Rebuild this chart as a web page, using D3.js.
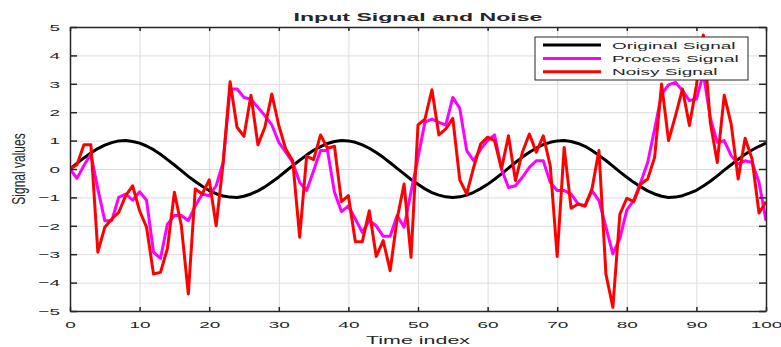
<!DOCTYPE html>
<html>
<head>
<meta charset="utf-8">
<script src="https://cdn.jsdelivr.net/npm/d3@7"></script>
<style>
  body { margin: 0; background: #fff; }
  text { font-family: "Liberation Sans", Arial, sans-serif; fill: #262626; }
</style>
</head>
<body>
<div id="chart"></div>
<script>
// values, index 0..100
const original = [0.00, 0.20, 0.39, 0.56, 0.72, 0.84, 0.93, 0.99, 1.00, 0.97,
  0.91, 0.81, 0.68, 0.52, 0.33, 0.14, -0.06, -0.26, -0.44, -0.61,
  -0.76, -0.87, -0.95, -0.99, -1.00, -0.96, -0.88, -0.77, -0.63, -0.46,
  -0.28, -0.08, 0.12, 0.31, 0.49, 0.66, 0.79, 0.90, 0.97, 1.00,
  0.99, 0.94, 0.85, 0.73, 0.58, 0.41, 0.22, 0.02, -0.17, -0.37,
  -0.54, -0.70, -0.83, -0.92, -0.98, -1.00, -0.98, -0.92, -0.82, -0.69,
  -0.54, -0.36, -0.17, 0.03, 0.23, 0.42, 0.59, 0.74, 0.86, 0.94,
  0.99, 1.00, 0.97, 0.90, 0.80, 0.65, 0.48, 0.30, 0.10, -0.10,
  -0.29, -0.47, -0.63, -0.77, -0.88, -0.96, -1.00, -0.99, -0.94, -0.85,
  -0.75, -0.60, -0.43, -0.24, -0.04, 0.15, 0.34, 0.52, 0.67, 0.80, 0.91];

const processSig = [0.00, -0.33, 0.12, 0.53, -0.70, -1.82, -1.82, -1.00, -0.88, -1.10,
  -0.80, -1.10, -2.93, -3.15, -1.94, -1.64, -1.64, -1.82, -1.30, -0.88,
  -0.94, -0.59, 0.23, 2.82, 2.82, 2.52, 2.46, 2.17, 1.88, 1.55,
  0.94, 0.59, 0.23, -0.47, -0.76, -0.06, 0.65, 0.65, -0.82, -1.50,
  -1.30, -1.76, -2.23, -1.82, -2.00, -2.37, -2.37, -1.64, -2.05, -0.80,
  0.40, 1.65, 1.76, 1.64, 1.55, 2.52, 2.14, 0.65, 0.29, 0.70,
  1.00, 1.20, 0.00, -0.65, -0.59, -0.29, 0.06, 0.29, 0.29, -0.47,
  -0.76, -0.76, -0.88, -1.23, -1.29, -0.76, -1.11, -2.05, -2.99, -2.45,
  -1.45, -1.10, -0.47, 0.23, 1.41, 2.64, 2.96, 3.05, 2.76, 2.41,
  2.46, 3.35, 1.80, 0.94, 1.00, 0.47, 0.18, 0.29, 0.23, -0.47, -1.82];

const noisy = [0.00, 0.15, 0.85, 0.85, -2.93, -2.05, -1.76, -1.53, -0.94, -0.59,
  -1.47, -2.05, -3.70, -3.64, -2.80, -0.82, -2.00, -4.40, -0.70, -0.88,
  -0.38, -2.00, 0.20, 3.07, 1.47, 1.15, 2.60, 0.85, 1.47, 2.64,
  1.53, 0.70, 0.29, -2.40, 0.45, 0.33, 1.20, 0.73, 0.80, -1.15,
  -0.94, -2.56, -2.56, -1.47, -3.08, -2.52, -3.58, -1.76, -0.53, -3.11,
  1.55, 1.76, 2.79, 1.20, 1.41, 1.78, -0.38, -0.88, 0.06, 0.88,
  1.12, 1.00, 0.00, 1.17, -0.41, 0.59, 1.23, 0.59, 1.17, 0.12,
  -3.08, 0.76, -1.38, -1.23, -1.31, -0.70, 0.65, -3.70, -4.87, -1.60,
  -1.03, -1.15, -0.53, -0.35, 0.41, 2.99, 1.00, 1.88, 2.82, 1.53,
  2.93, 4.72, 1.64, 0.23, 2.60, 1.58, -0.35, 1.08, 0.35, -1.55, -1.15];

const xTicks = [0, 10, 20, 30, 40, 50, 60, 70, 80, 90, 100];
const yTicks = [-5, -4, -3, -2, -1, 0, 1, 2, 3, 4, 5];
const seriesNames = ['Original Signal', 'Process Signal', 'Noisy Signal'];
const seriesColors = ['#000000', '#ff00ff', '#ff0000'];

const W = 781, H = 347;
const margin = { top: 27, right: 15, bottom: 36, left: 70 };
const width = W - margin.left - margin.right;
const height = H - margin.top - margin.bottom;
const sx = 2; // the reference is stretched sideways

const svg = d3.select('#chart').append('svg')
  .attr('width', W)
  .attr('height', H);

const g = svg.append('g')
  .attr('transform', 'translate(' + margin.left + ',' + margin.top + ')');

const x = d3.scaleLinear().domain([0, 100]).range([0, width]);
const y = d3.scaleLinear().domain([-5, 5]).range([height, 0]);

// grid
g.append('g')
  .attr('transform', 'translate(0,' + height + ')')
  .call(d3.axisBottom(x).tickValues(xTicks).tickSize(-height).tickFormat(''))
  .call(s => s.select('.domain').remove())
  .call(s => s.selectAll('line').attr('stroke', '#dcdcdc'));
g.append('g')
  .call(d3.axisLeft(y).tickValues(yTicks).tickSize(-width).tickFormat(''))
  .call(s => s.select('.domain').remove())
  .call(s => s.selectAll('line').attr('stroke', '#dcdcdc'));

// lines
g.append('clipPath').attr('id', 'clip')
  .append('rect').attr('width', width).attr('height', height);

const line = d3.line()
  .x((d, i) => x(i))
  .y(d => y(d));

[original, processSig, noisy].forEach((data, k) => {
  g.append('path')
    .datum(data)
    .attr('clip-path', 'url(#clip)')
    .attr('fill', 'none')
    .attr('stroke', seriesColors[k])
    .attr('stroke-width', 3)
    .attr('stroke-linejoin', 'round')
    .attr('d', line);
});

// axes with inward ticks
const axisStyle = s => {
  s.select('.domain').attr('stroke', '#262626').attr('stroke-width', 1.5);
  s.selectAll('.tick line').attr('stroke', '#262626').attr('stroke-width', 1.5);
};

g.append('g')
  .attr('transform', 'translate(0,' + height + ')')
  .call(d3.axisBottom(x).tickValues(xTicks).tickSizeInner(-4).tickSizeOuter(0).tickPadding(0))
  .call(axisStyle)
  .call(s => s.selectAll('.tick text')
    .attr('y', 17).attr('dy', 0)
    .attr('transform', 'scale(' + sx + ',1)')
    .style('font-size', '9.5px').attr('fill', '#262626'));

g.append('g')
  .call(d3.axisLeft(y).tickValues(yTicks).tickSizeInner(-7).tickSizeOuter(0).tickPadding(0))
  .call(axisStyle)
  .call(s => s.selectAll('.tick text')
    .attr('x', -5).attr('dy', '0.34em')
    .attr('transform', 'scale(' + sx + ',1)')
    .style('font-size', '9.5px').attr('fill', '#262626'));

g.append('g')
  .call(d3.axisTop(x).tickValues(xTicks).tickSizeInner(-4).tickSizeOuter(0).tickFormat(''))
  .call(axisStyle);

g.append('g')
  .attr('transform', 'translate(' + width + ',0)')
  .call(d3.axisRight(y).tickValues(yTicks).tickSizeInner(-7).tickSizeOuter(0).tickFormat(''))
  .call(axisStyle);

// title and labels
svg.append('text')
  .attr('transform', 'translate(' + (margin.left + width / 2) + ',21) scale(2.1,1)')
  .attr('text-anchor', 'middle')
  .style('font-size', '11px')
  .style('font-weight', 'bold')
  .attr('fill', '#000')
  .text('Input Signal and Noise');

svg.append('text')
  .attr('transform', 'translate(' + (margin.left + width / 2) + ',344) scale(1.95,1)')
  .attr('text-anchor', 'middle')
  .style('font-size', '11px')
  .text('Time index');

svg.append('text')
  .attr('transform', 'translate(25,' + (margin.top + height / 2) + ') scale(1.5,1) rotate(-90)')
  .attr('text-anchor', 'middle')
  .style('font-size', '12px')
  .text('Signal values');

// legend
const legend = svg.append('g').attr('transform', 'translate(535,37)');
legend.append('rect')
  .attr('width', 213).attr('height', 43)
  .attr('fill', '#fff')
  .attr('stroke', '#262626')
  .attr('stroke-width', 1);

seriesNames.forEach((name, k) => {
  const ly = 8 + k * 13.4;
  legend.append('line')
    .attr('x1', 8).attr('x2', 66)
    .attr('y1', ly).attr('y2', ly)
    .attr('stroke', seriesColors[k])
    .attr('stroke-width', 3);
  legend.append('text')
    .attr('transform', 'translate(77,' + (ly + 3.5) + ') scale(' + sx + ',1)')
    .style('font-size', '9.5px')
    .attr('fill', '#000')
    .text(name);
});
</script>
</body>
</html>
